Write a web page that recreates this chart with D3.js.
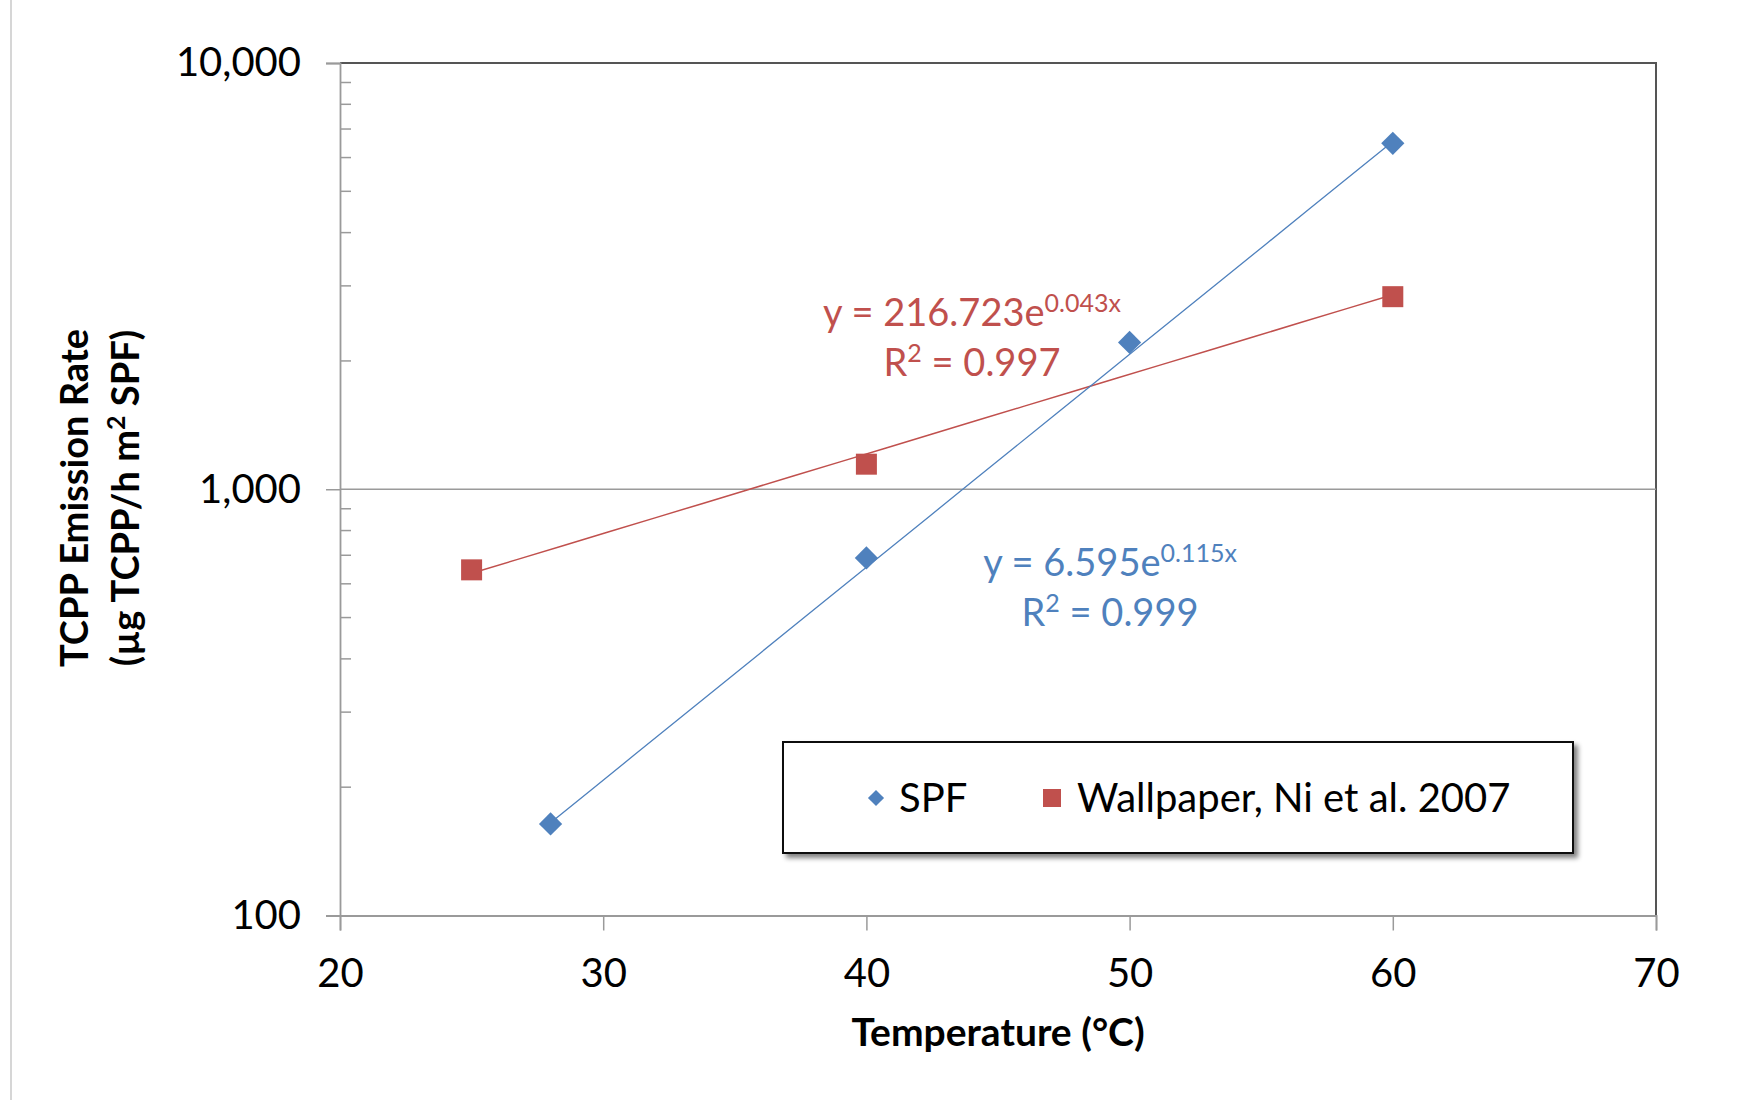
<!DOCTYPE html>
<html>
<head>
<meta charset="utf-8">
<script src="https://cdn.jsdelivr.net/npm/d3@7"></script>
<style>
  html, body { margin: 0; padding: 0; background: #fff; }
  svg { display: block; font-family: Lato, "Open Sans", sans-serif; }
</style>
</head>
<body>
<svg id="chart" width="1748" height="1100"></svg>
<script>
// Measured TCPP emission rates (µg TCPP / h m² SPF) by chamber temperature (°C)
const spfTemps = [28, 40, 50, 60];
const spfRates = [164, 690, 2210, 6480];
const wallTemps = [25, 40, 60];
const wallRates = [647, 1145, 2830];

// Exponential trend line coefficients: y = a·e^(b·x), plus R²
const spfFit = [6.595, 0.115, 0.999];
const wallFit = [216.723, 0.043, 0.997];

// Axis ticks
const xTicks = [20, 30, 40, 50, 60, 70];
const yMajorTicks = [100, 1000, 10000];
const seriesNames = ["SPF", "Wallpaper, Ni et al. 2007"];

const blue = "#4F81BD";
const red = "#C0504D";

const svg = d3.select("#chart");
const W = 1748, H = 1100;
const plot = { left: 340, right: 1656, top: 63, bottom: 915.5 };

const x = d3.scaleLinear().domain([20, 70]).range([plot.left, plot.right]);
const y = d3.scaleLog().domain([100, 10000]).range([plot.bottom, plot.top]);

// Thin page-edge rule on the left
svg.append("line")
  .attr("x1", 11).attr("x2", 11).attr("y1", 0).attr("y2", H)
  .attr("stroke", "#c8c8c8").attr("stroke-width", 1.5);

// Plot frame: top and right edges
svg.append("path")
  .attr("d", `M${plot.left},${plot.top}H${plot.right}V${plot.bottom}`)
  .attr("fill", "none").attr("stroke", "#555").attr("stroke-width", 2);

// Horizontal gridline at the interior decade
svg.append("g").selectAll("line")
  .data(yMajorTicks.filter(v => v > 100 && v < 10000))
  .join("line")
  .attr("x1", plot.left).attr("x2", plot.right)
  .attr("y1", d => y(d)).attr("y2", d => y(d))
  .attr("stroke", "#9a9a9a").attr("stroke-width", 1.5);

// Y axis (log) with outward major ticks and inward minor ticks
const yAxis = d3.axisLeft(y)
  .tickValues(yMajorTicks)
  .tickSize(14)
  .tickPadding(25)
  .tickFormat(d3.format(","));
const gy = svg.append("g").attr("transform", `translate(${plot.left},0)`).call(yAxis);
gy.select(".domain").attr("stroke", "#9a9a9a").attr("stroke-width", 1.8);
gy.selectAll(".tick line").attr("stroke", "#9a9a9a").attr("stroke-width", 1.5);
gy.selectAll(".tick text").attr("font-size", 40).attr("fill", "#000")
  .attr("font-family", "Lato, sans-serif");

const minorTicks = y.ticks().filter(v => !yMajorTicks.includes(v));
svg.append("g").selectAll("line")
  .data(minorTicks)
  .join("line")
  .attr("x1", plot.left).attr("x2", plot.left + 11)
  .attr("y1", d => y(d)).attr("y2", d => y(d))
  .attr("stroke", "#9a9a9a").attr("stroke-width", 1.5);

// X axis
const xAxis = d3.axisBottom(x).tickValues(xTicks).tickSize(15).tickPadding(28);
const gx = svg.append("g").attr("transform", `translate(0,${plot.bottom})`).call(xAxis);
gx.select(".domain").attr("stroke", "#9a9a9a").attr("stroke-width", 1.8);
gx.selectAll(".tick line").attr("stroke", "#9a9a9a").attr("stroke-width", 1.5);
gx.selectAll(".tick text").attr("font-size", 40).attr("fill", "#000")
  .attr("font-family", "Lato, sans-serif");

// Axis titles
svg.append("text")
  .attr("x", (plot.left + plot.right) / 2).attr("y", 1046)
  .attr("text-anchor", "middle").attr("font-size", 39).attr("font-weight", "bold")
  .text("Temperature (°C)");

const yTitle = svg.append("text")
  .attr("transform", "translate(0,498) rotate(-90)")
  .attr("text-anchor", "middle").attr("font-size", 38).attr("font-weight", "bold");
yTitle.append("tspan").attr("x", 0).attr("y", 88).text("TCPP Emission Rate");
const l2 = yTitle.append("tspan").attr("x", 0).attr("y", 139);
l2.append("tspan").text("(µg TCPP/h m");
l2.append("tspan").attr("dy", -14).attr("font-size", 25).text("2");
l2.append("tspan").attr("dy", 14).text(" SPF)");

// Exponential trend lines over each series' temperature range
const line = d3.line().x(d => x(d[0])).y(d => y(d[1]));
function trend(temps, fit) {
  const [lo, hi] = d3.extent(temps);
  const pts = d3.range(0, 21).map(i => {
    const t = lo + (hi - lo) * i / 20;
    return [t, fit[0] * Math.exp(fit[1] * t)];
  });
  return line(pts);
}
svg.append("path").attr("d", trend(wallTemps, wallFit))
  .attr("fill", "none").attr("stroke", red).attr("stroke-width", 1.5);
svg.append("path").attr("d", trend(spfTemps, spfFit))
  .attr("fill", "none").attr("stroke", blue).attr("stroke-width", 1.3);

// Markers: diamonds for SPF, squares for wallpaper
svg.append("g").selectAll("path")
  .data(d3.zip(spfTemps, spfRates))
  .join("path")
  .attr("transform", d => `translate(${x(d[0])},${y(d[1])}) rotate(45)`)
  .attr("d", d3.symbol().type(d3.symbolSquare).size(270)())
  .attr("fill", blue);

svg.append("g").selectAll("rect")
  .data(d3.zip(wallTemps, wallRates))
  .join("rect")
  .attr("x", d => x(d[0]) - 10.5).attr("y", d => y(d[1]) - 10.5)
  .attr("width", 21).attr("height", 21)
  .attr("fill", red);

// Trend line equations
function equation(cx, cy, fit, color) {
  const g = svg.append("g").attr("fill", color).attr("font-size", 38);
  const t1 = g.append("text").attr("x", cx).attr("y", cy).attr("text-anchor", "middle");
  t1.append("tspan").text(`y = ${fit[0].toFixed(3)}e`);
  t1.append("tspan").attr("dy", -14).attr("font-size", 25).text(`${fit[1].toFixed(3)}x`);
  const t2 = g.append("text").attr("x", cx).attr("y", cy + 50).attr("text-anchor", "middle");
  t2.append("tspan").text("R");
  t2.append("tspan").attr("dy", -14).attr("font-size", 25).text("2");
  t2.append("tspan").attr("dy", 14).text(` = ${fit[2].toFixed(3)}`);
}
equation(972, 326, wallFit, red);
equation(1110, 576, spfFit, blue);

// Legend with drop shadow
const defs = svg.append("defs");
const f = defs.append("filter").attr("id", "shadow")
  .attr("x", "-5%").attr("y", "-20%").attr("width", "115%").attr("height", "150%");
f.append("feGaussianBlur").attr("in", "SourceAlpha").attr("stdDeviation", 2.5);
f.append("feOffset").attr("dx", 4).attr("dy", 4).attr("result", "b");
f.append("feComponentTransfer").append("feFuncA").attr("type", "linear").attr("slope", 0.5);
const m = f.append("feMerge");
m.append("feMergeNode");
m.append("feMergeNode").attr("in", "SourceGraphic");

const lg = svg.append("g");
lg.append("rect")
  .attr("x", 783).attr("y", 742).attr("width", 790).attr("height", 111)
  .attr("fill", "#fff").attr("stroke", "#111").attr("stroke-width", 2)
  .attr("filter", "url(#shadow)");
lg.append("path")
  .attr("transform", "translate(876,798) rotate(45)")
  .attr("d", d3.symbol().type(d3.symbolSquare).size(130)())
  .attr("fill", blue);
lg.append("text").attr("x", 899).attr("y", 812).attr("font-size", 40).text(seriesNames[0]);
lg.append("rect").attr("x", 1043).attr("y", 789).attr("width", 18).attr("height", 18).attr("fill", red);
lg.append("text").attr("x", 1077).attr("y", 812).attr("font-size", 40).text(seriesNames[1]);
</script>
</body>
</html>
